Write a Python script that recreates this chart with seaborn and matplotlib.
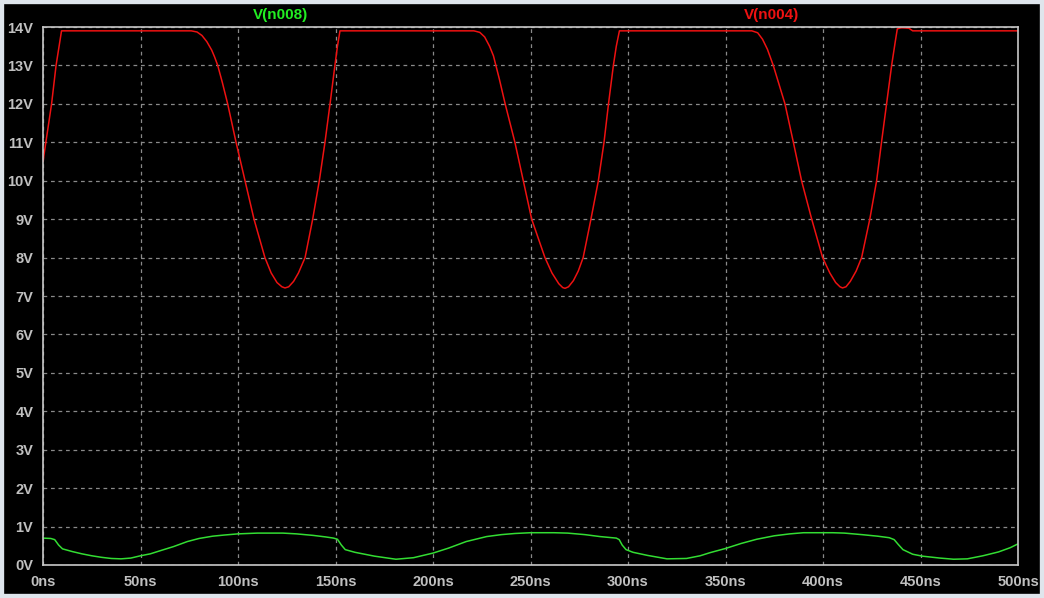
import numpy as np
import pandas as pd
import matplotlib
matplotlib.use("Agg")
import matplotlib.pyplot as plt
import seaborn as sns
from matplotlib.patches import Rectangle
from matplotlib.ticker import FuncFormatter

# V(n004) (ns, V)
t_n004 = [0, 4.4, 6.7, 9.5, 76, 79, 81.5, 84, 86.5, 88, 89.6, 92, 94.7, 99, 103.6, 108.2, 113.8,
          117, 120, 122.5, 124.1, 126, 128.5, 131, 134.4, 138.3, 141.7, 144.6, 147.2, 149.7,
          151, 152.3,
          221, 224, 226.5, 229, 231, 234, 237, 242, 246.3, 250.6, 257.4, 261, 264.5, 266.5,
          267.7, 269.5, 272, 274.5, 277, 281, 284.8, 287.7, 290, 292.5, 294, 295.6,
          363.5, 366.5, 369, 371.5, 374.5, 377.5, 380.5, 384.8, 389, 394.2, 399.8, 403.5, 406.5,
          408.7, 410, 411.8, 414, 417, 419.8, 424, 427.5, 430, 432.6, 435.2, 437, 438.1, 440,
          444, 446, 500]
v_n004 = [10.5, 12.0, 13.0, 13.9, 13.9, 13.87, 13.78, 13.62, 13.4, 13.22, 13.0, 12.55, 12.0, 11.0,
          10.0, 9.0, 8.0, 7.6, 7.35, 7.24, 7.21, 7.24, 7.38, 7.6, 8.0, 9.0, 10.0, 11.0, 12.0,
          13.0, 13.5, 13.9,
          13.9, 13.86, 13.74, 13.5, 13.25, 12.65, 12.0, 11.0, 10.0, 9.0, 8.0, 7.6, 7.32, 7.22,
          7.2, 7.24, 7.4, 7.65, 8.0, 9.0, 10.0, 11.0, 12.0, 13.0, 13.5, 13.9,
          13.9, 13.85, 13.68, 13.42, 13.0, 12.5, 12.0, 11.0, 10.0, 9.0, 8.0, 7.6, 7.35,
          7.24, 7.21, 7.24, 7.38, 7.65, 8.0, 9.0, 10.0, 11.0, 12.0, 13.0, 13.6, 13.95, 13.98,
          13.97, 13.9, 13.9]

# V(n008) (ns, V)
t_n008 = [0, 4, 6, 8, 10, 15, 20, 25, 30, 35, 40, 45, 50, 55, 60, 67, 74, 80, 87, 93, 100,
          110, 123, 130, 138.6, 145, 149, 151, 153, 155, 160, 170, 181, 190, 200, 208, 217,
          227.5, 235, 242, 250, 262, 269, 278, 285.6, 294, 295.5, 297, 299, 302.6, 310, 320,
          330, 337, 342, 350, 358, 366, 375, 383, 390, 405, 411, 420, 428, 434, 436.5, 438.5,
          441, 446, 451, 460, 467, 474, 482, 490, 496, 500]
v_n008 = [0.70, 0.69, 0.66, 0.52, 0.42, 0.35, 0.29, 0.24, 0.20, 0.17, 0.16, 0.18, 0.24, 0.29, 0.37,
          0.48, 0.61, 0.69, 0.75, 0.78, 0.81, 0.83, 0.83, 0.81, 0.77, 0.73, 0.70, 0.67, 0.52,
          0.40, 0.33, 0.23, 0.15, 0.19, 0.31, 0.44, 0.61, 0.74, 0.79, 0.82, 0.84, 0.84, 0.83,
          0.79, 0.74, 0.70, 0.66, 0.52, 0.40, 0.33, 0.25, 0.16, 0.17, 0.24, 0.32, 0.43, 0.56,
          0.67, 0.76, 0.81, 0.84, 0.84, 0.83, 0.79, 0.75, 0.71, 0.66, 0.54, 0.40, 0.28, 0.23,
          0.18, 0.15, 0.16, 0.24, 0.34, 0.45, 0.55]

x_ticks = list(range(0, 501, 50))
y_ticks = list(range(0, 15))

sns.set_theme(style="dark")
plt.rcParams['font.family'] = ['Liberation Sans', 'DejaVu Sans']

fig = plt.figure(figsize=(10.44, 5.98), dpi=100, facecolor="black")
ax = fig.add_axes([43 / 1044, 33 / 598, 975 / 1044, 538 / 598])
ax.set_facecolor("black")

# window frame
fig.patches.append(Rectangle((0, 0), 1, 1, transform=fig.transFigure, fill=False,
                             edgecolor="#dfe5ec", linewidth=6, zorder=0))

df_red = pd.DataFrame({"t": t_n004, "v": v_n004})
df_green = pd.DataFrame({"t": t_n008, "v": v_n008})
sns.lineplot(data=df_red, x="t", y="v", color="#ee1111", linewidth=1.1, ax=ax)
sns.lineplot(data=df_green, x="t", y="v", color="#33dd33", linewidth=1.1, ax=ax)

ax.set_xlim(0, 500)
ax.set_ylim(0, 14)
ax.set_xticks(x_ticks)
ax.set_yticks(y_ticks)
ax.xaxis.set_major_formatter(FuncFormatter(lambda v, p: f"{int(v)}ns"))
ax.yaxis.set_major_formatter(FuncFormatter(lambda v, p: f"{int(v)}V"))
ax.set_xlabel("")
ax.set_ylabel("")

ax.grid(True, color="#8a8a8a", linestyle=(0, (3, 3)), linewidth=0.9)
for s in ax.spines.values():
    s.set_visible(True)
    s.set_color("#c8c8c8")
    s.set_linewidth(1.2)

ax.tick_params(axis="both", colors="#c8c8c8", length=6, width=1.1, direction="out",
               labelsize=10.5, labelcolor="#c0c0c0", pad=1)
for lab in ax.get_xticklabels() + ax.get_yticklabels():
    lab.set_fontweight("bold")

fig.text(281 / 1044, 1 - 15 / 598, "V(n008)", color="#22ee22", fontsize=11,
         fontweight="bold", ha="center", va="center")
fig.text(772 / 1044, 1 - 15 / 598, "V(n004)", color="#ee1111", fontsize=11,
         fontweight="bold", ha="center", va="center")

fig.savefig("out.png", dpi=100, facecolor="black")
